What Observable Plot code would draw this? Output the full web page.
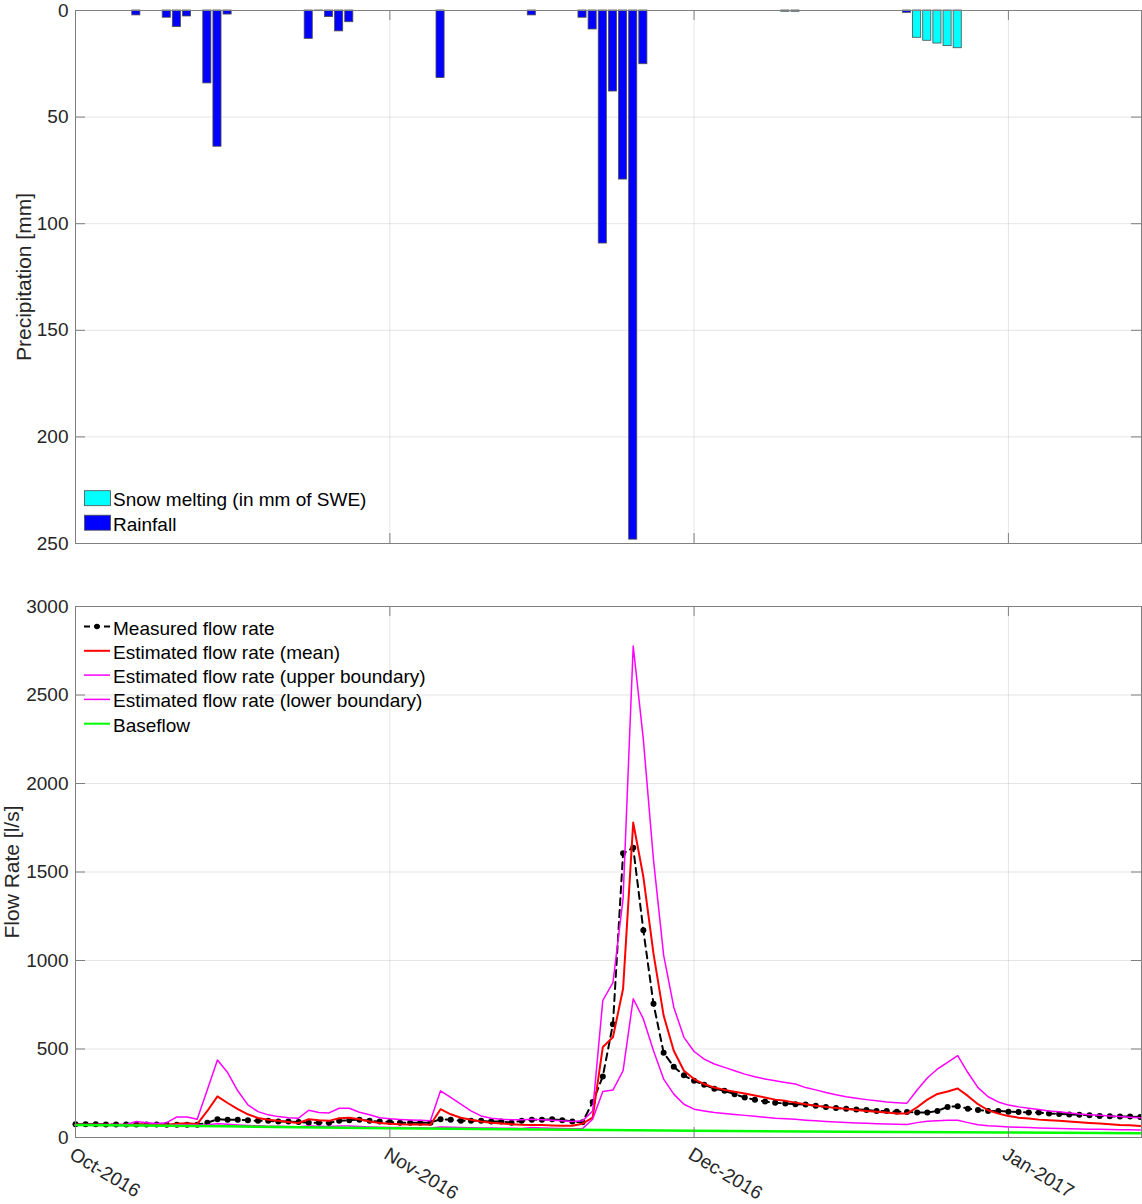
<!DOCTYPE html>
<html>
<head>
<meta charset="utf-8">
<title>Precipitation and flow rate, Oct 2016 – Jan 2017</title>
<script src="https://cdn.jsdelivr.net/npm/d3@7"></script>
<script src="https://cdn.jsdelivr.net/npm/@observablehq/plot@0.6"></script>
<style>
  html, body { margin: 0; padding: 0; background: #fff; }
  #figure { position: relative; width: 1142px; height: 1204px; font-family: "Liberation Sans", Arial, Helvetica, sans-serif; }
  #figure > svg { display: block; }
  #legends { position: absolute; left: 0; top: 0; pointer-events: none; }
</style>
</head>
<body>
<div id="figure"></div>
<script>
// ---------------- data ----------------
// Daily flow series (l/s), one value per day starting 1 Oct 2016.
const firstDay = "2016-10-01";

const measuredFlow = [
  75, 75, 75, 74, 74, 74, 73, 73, 73, 72, 72, 72, 72,
  84, 103, 100, 100, 98, 94, 94, 90, 90, 88, 84, 84, 82, 94, 98, 100, 94,
  90, 88, 84, 84, 84, 84,
  103, 100, 94, 94, 94, 90, 90, 84, 94, 100, 100, 103, 98, 90, 86,
  200, 345, 640, 1606, 1637, 1171, 755, 479, 400, 351,
  320, 298, 275, 264, 245, 226, 213, 203, 197, 192,
  188, 186, 179, 173, 167, 162, 158, 156, 150,
  150, 146, 144, 141, 141, 150, 173, 177, 163, 156, 150, 150, 146,
  144, 141, 141, 135, 133, 130, 128, 126, 122, 120, 118, 118, 116
];

const meanFlow = [
  72, 72, 72, 72, 72, 72, 73, 73, 72, 72, 78, 80, 76,
  150, 232, 195, 160, 131, 110, 100, 94, 88, 82, 103, 97, 94, 109, 112, 103, 90,
  82, 78, 75, 74, 73, 72,
  160, 131, 112, 100, 90, 84, 79, 75, 72, 71, 70, 68, 66, 66, 78,
  112, 511, 566, 840, 1779, 1473, 1039, 689, 490, 377,
  330, 302, 282, 269, 258, 248, 237, 226, 214, 207,
  197, 188, 179, 173, 167, 162, 156, 150, 146,
  141, 135, 135, 171, 214, 246, 260, 277, 235, 188, 154, 135, 122,
  112, 107, 101, 97, 94, 90, 86, 82, 79, 75, 71, 69, 65
];

const upperFlow = [
  73, 73, 73, 73, 73, 74, 90, 84, 79, 84, 116, 116, 103,
  270, 438, 367, 264, 184, 146, 128, 118, 112, 109, 154, 141, 139, 165, 165, 143, 128,
  112, 106, 102, 99, 97, 95,
  264, 226, 188, 150, 122, 109, 103, 100, 100, 103, 100, 98, 94, 90, 94,
  150, 774, 875, 1350, 2777, 2248, 1568, 1030, 736, 566,
  486, 443, 415, 396, 377, 358, 343, 330, 320, 311,
  302, 282, 269, 254, 241, 230, 222, 214, 207,
  201, 197, 194, 268, 336, 387, 424, 462, 367, 282, 230, 201, 183,
  173, 165, 158, 150, 145, 139, 133, 129, 126, 122, 118, 115, 111
];

const lowerFlow = [
  70, 70, 69, 69, 68, 68, 70, 69, 68, 68, 72, 72, 70,
  72, 78, 75, 71, 68, 66, 64, 63, 62, 61, 65, 63, 62, 65, 65, 62, 60,
  58, 57, 56, 55, 55, 54,
  60, 58, 56, 55, 54, 53, 52, 52, 51, 56, 54, 52, 51, 50, 50,
  103, 260, 268, 377, 784, 670, 490, 330, 245, 188,
  160, 150, 141, 135, 130, 125, 120, 114, 109, 106,
  103, 98, 94, 91, 88, 85, 82, 80, 78,
  76, 75, 73, 84, 92, 95, 97, 97, 84, 72, 66, 63, 60,
  58, 56, 54, 52, 51, 49, 48, 47, 46, 45, 44, 44, 43
];

// Baseflow (l/s) at a few dates
const baseflowDates = ["2016-10-01", "2016-10-16", "2016-11-01", "2016-11-16", "2016-12-01", "2016-12-16", "2017-01-01", "2017-01-14"];
const baseflowValues = [71, 63, 52, 45, 38, 33, 28, 24];

// Daily precipitation (mm)
const rainDates = ["2016-10-07", "2016-10-10", "2016-10-11", "2016-10-12", "2016-10-14", "2016-10-15", "2016-10-16",
  "2016-10-24", "2016-10-25", "2016-10-26", "2016-10-27", "2016-10-28",
  "2016-11-06", "2016-11-15", "2016-11-20", "2016-11-21", "2016-11-22", "2016-11-23", "2016-11-24", "2016-11-25", "2016-11-26",
  "2016-12-22"];
const rainMm = [2.3, 3.4, 7.8, 2.8, 34.2, 63.9, 1.9,
  13.3, 0.3, 3.1, 9.8, 5.5,
  31.7, 2.3, 3.4, 8.9, 109.3, 38.0, 79.3, 248.2, 25.2,
  1.1];

const snowDates = ["2016-12-10", "2016-12-11", "2016-12-23", "2016-12-24", "2016-12-25", "2016-12-26", "2016-12-27"];
const snowMm = [0.6, 0.6, 12.8, 14.2, 15.5, 16.7, 17.7];

// Axis ticks
const monthTickDates = ["2016-10-01", "2016-11-01", "2016-12-01", "2017-01-01"];
const monthTickLabels = ["Oct-2016", "Nov-2016", "Dec-2016", "Jan-2017"];
const precipTicks = [0, 50, 100, 150, 200, 250];
const flowTicks = [0, 500, 1000, 1500, 2000, 2500, 3000];

// ---------------- tables ----------------
const parse = d3.utcParse("%Y-%m-%d");
const start = parse(firstDay);
const flowRows = measuredFlow.map((m, i) => ({
  date: d3.utcDay.offset(start, i),
  measured: m, mean: meanFlow[i], upper: upperFlow[i], lower: lowerFlow[i]
}));
const baseRows = baseflowDates.map((d, i) => ({date: parse(d), value: baseflowValues[i]}));
const rainRows = rainDates.map((d, i) => ({date: parse(d), mm: rainMm[i]}));
const snowRows = snowDates.map((d, i) => ({date: parse(d), mm: snowMm[i]}));
const monthTicks = monthTickDates.map((d, i) => ({date: parse(d), label: monthTickLabels[i]}));
const monthDates = monthTicks.map(d => d.date);

// ---------------- layout ----------------
const W = 1142, mLeft = 75, mRight = 1;
const plotW = W - mLeft - mRight;
const xDomain = [start, d3.utcHour.offset(parse("2017-01-14"), 3)];
const fontFamily = '"Liberation Sans", Arial, Helvetica, sans-serif';
const axisGray = "#808080";
const tickColor = "#262626";
const halfBar = 0.4 * 864e5; // bars are 80% of a day wide, centred on the date

function boxMarks(yTicks, plotH) {
  return [
    Plot.frame({stroke: axisGray, strokeWidth: 1}),
    // inward ticks on all four sides
    Plot.tickY(yTicks, {y: d => d, stroke: axisGray, insetRight: plotW - 10}),
    Plot.tickY(yTicks, {y: d => d, stroke: axisGray, insetLeft: plotW - 10}),
    Plot.tickX(monthDates, {x: d => d, stroke: axisGray, insetTop: plotH - 10}),
    Plot.tickX(monthDates, {x: d => d, stroke: axisGray, insetBottom: plotH - 10}),
    Plot.axisY(yTicks, {tickSize: 0, tickPadding: 7, fontSize: 19, label: null, fill: tickColor, tickFormat: d3.format("d")})
  ];
}

const gridStyle = {stroke: "#000", strokeOpacity: 0.1, strokeWidth: 1};

// ---------------- precipitation panel ----------------
const topH = 553, topMT = 10, topMB = 10;
const precip = Plot.plot({
  width: W, height: topH,
  marginLeft: mLeft, marginRight: mRight, marginTop: topMT, marginBottom: topMB,
  style: {fontFamily, fontSize: "19px", color: tickColor, background: "transparent", overflow: "visible"},
  x: {type: "utc", domain: xDomain, axis: null},
  y: {domain: [0, 250], reverse: true},
  marks: [
    Plot.gridY(precipTicks, gridStyle),
    Plot.gridX(monthDates, gridStyle),
    Plot.rect(rainRows, {
      x1: d => new Date(+d.date - halfBar), x2: d => new Date(+d.date + halfBar),
      y1: () => 0, y2: "mm", fill: "#0000ff", stroke: "#4d4d4d", strokeWidth: 0.8
    }),
    Plot.rect(snowRows, {
      x1: d => new Date(+d.date - halfBar), x2: d => new Date(+d.date + halfBar),
      y1: () => 0, y2: "mm", fill: "#00ffff", stroke: "#4d4d4d", strokeWidth: 0.8
    }),
    ...boxMarks(precipTicks, topH - topMT - topMB),
    Plot.text(["Precipitation [mm]"], {
      text: d => d, frameAnchor: "left", dx: -51, rotate: -90,
      textAnchor: "middle", lineAnchor: "middle", fontSize: 21, fill: tickColor
    })
  ]
});

// ---------------- flow panel ----------------
const botH = 651, botMT = 53, botMB = 67;
const flow = Plot.plot({
  width: W, height: botH,
  marginLeft: mLeft, marginRight: mRight, marginTop: botMT, marginBottom: botMB,
  style: {fontFamily, fontSize: "19px", color: tickColor, background: "transparent", overflow: "visible"},
  x: {type: "utc", domain: xDomain, axis: null},
  y: {domain: [0, 3000]},
  marks: [
    Plot.gridY(flowTicks, gridStyle),
    Plot.gridX(monthDates, gridStyle),
    Plot.line(flowRows, {x: "date", y: "measured", stroke: "#000", strokeWidth: 2, strokeDasharray: "7,5"}),
    Plot.dot(flowRows, {x: "date", y: "measured", r: 3, fill: "#000", stroke: "none"}),
    Plot.line(flowRows, {x: "date", y: "mean", stroke: "#ff0000", strokeWidth: 2}),
    Plot.line(flowRows, {x: "date", y: "upper", stroke: "#ff00ff", strokeWidth: 1.5}),
    Plot.line(flowRows, {x: "date", y: "lower", stroke: "#ff00ff", strokeWidth: 1.5}),
    Plot.line(baseRows, {x: "date", y: "value", stroke: "#00ff00", strokeWidth: 2.5}),
    ...boxMarks(flowTicks, botH - botMT - botMB),
    Plot.text(monthTicks, {
      x: "date", text: "label", frameAnchor: "bottom", dx: -4, dy: 15,
      rotate: 31, textAnchor: "start", lineAnchor: "middle", fontSize: 19, fill: tickColor
    }),
    Plot.text(["Flow Rate [l/s]"], {
      text: d => d, frameAnchor: "left", dx: -63, rotate: -90,
      textAnchor: "middle", lineAnchor: "middle", fontSize: 21, fill: tickColor
    })
  ]
});

const fig = document.getElementById("figure");
fig.append(precip, flow);

// ---------------- legends (inside the plot areas) ----------------
const leg = d3.select(fig).append("svg")
  .attr("id", "legends").attr("width", W).attr("height", 1204)
  .style("font-family", fontFamily).style("font-size", "19px");

const barItems = [
  {label: "Snow melting (in mm of SWE)", fill: "#00ffff"},
  {label: "Rainfall", fill: "#0000ff"}
];
barItems.forEach((item, i) => {
  const base = 506 + i * 24.5;
  leg.append("rect").attr("x", 84.5).attr("y", base - 15.3).attr("width", 26).attr("height", 15)
    .attr("fill", item.fill).attr("stroke", "#4d4d4d").attr("stroke-width", 0.8);
  leg.append("text").attr("x", 113).attr("y", base).attr("fill", "#000").text(item.label);
});

const lineItems = [
  {label: "Measured flow rate", stroke: "#000", width: 2, dash: "6,4", dot: true},
  {label: "Estimated flow rate (mean)", stroke: "#ff0000", width: 2},
  {label: "Estimated flow rate (upper boundary)", stroke: "#ff00ff", width: 1.5},
  {label: "Estimated flow rate (lower boundary)", stroke: "#ff00ff", width: 1.5},
  {label: "Baseflow", stroke: "#00ff00", width: 2}
];
lineItems.forEach((item, i) => {
  const base = 634.5 + i * 24.3;
  const ly = base - 8;
  leg.append("line").attr("x1", 84).attr("x2", 110).attr("y1", ly).attr("y2", ly)
    .attr("stroke", item.stroke).attr("stroke-width", item.width)
    .attr("stroke-dasharray", item.dash || null);
  if (item.dot) leg.append("circle").attr("cx", 97).attr("cy", ly).attr("r", 2.8).attr("fill", "#000");
  leg.append("text").attr("x", 113).attr("y", base).attr("fill", "#000").text(item.label);
});
</script>
</body>
</html>
